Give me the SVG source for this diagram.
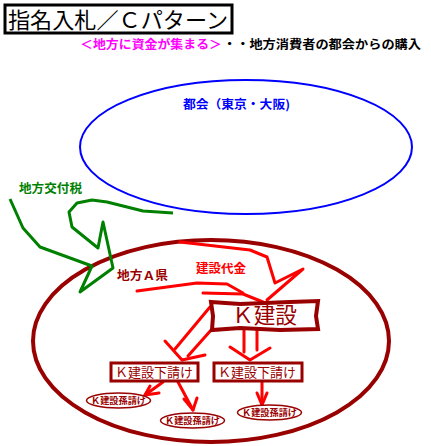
<svg xmlns="http://www.w3.org/2000/svg" width="431" height="446" viewBox="0 0 431 446">
<style>
.jp{font-family:"Noto Sans CJK JP","Noto Sans",sans-serif}
.b{font-weight:bold}
.dr{fill:#990000}
.ar{fill:none;stroke:#ff0000;stroke-width:3;stroke-linejoin:round;stroke-linecap:round}
.box{fill:#ffffff;stroke:#990000}
</style>
<rect width="431" height="446" fill="#ffffff"/>
<g id="title">
<rect x="5" y="5" width="227" height="28" fill="#ffffff" stroke="#000000" stroke-width="3"/>
<text class="jp" x="8" y="28" font-size="22" textLength="220" lengthAdjust="spacingAndGlyphs" fill="#000000">指名入札／Ｃパターン</text>
</g>
<g id="subtitle">
<text class="jp b" x="80" y="49" font-size="12" textLength="142" lengthAdjust="spacingAndGlyphs" fill="#ff00ff">＜地方に資金が集まる＞</text>
<text class="jp b" x="223" y="49" font-size="12" textLength="198" lengthAdjust="spacingAndGlyphs" fill="#000000">・・地方消費者の都会からの購入</text>
</g>
<g id="city">
<ellipse cx="246" cy="147" rx="166" ry="67" fill="none" stroke="#0000ff" stroke-width="2"/>
<text class="jp b" x="183" y="109" font-size="12" textLength="107" lengthAdjust="spacingAndGlyphs" fill="#0000ff">都会（東京・大阪)</text>
</g>
<g id="prefecture">
<ellipse cx="211" cy="341" rx="178" ry="101" fill="none" stroke="#990000" stroke-width="4"/>
<text class="jp b dr" x="117" y="280" font-size="12" textLength="51" lengthAdjust="spacingAndGlyphs">地方Ａ県</text>
</g>
<g id="connectors">
<polyline fill="none" stroke="#008000" stroke-width="3" stroke-linejoin="round" points="10,199 23,228 40,247 92,266 80,292 113,268 103,222 98,248 72,227 69,212 77,203 92,200 107,202 143,211 173,213"/>
<text class="jp b" x="19" y="193" font-size="12" textLength="63" lengthAdjust="spacingAndGlyphs" fill="#008000">地方交付税</text>
<text class="jp b" x="196" y="273" font-size="12" textLength="50" lengthAdjust="spacingAndGlyphs" fill="#ff0000">建設代金</text>
<polyline class="ar" points="137,291 167,287 197,283 227,284 243,293"/>
<polyline class="ar" points="203,293 243,294 263,302"/>
<polyline class="ar" points="180,242 250,250 267,257 275,283 303,269 267,300"/>
<polyline class="ar" points="210,307 175,349"/>
<polyline class="ar" points="212,329 188,356"/>
<polyline class="ar" points="165,341 182,360 205,355"/>
<polyline class="ar" points="244,329 244,352"/>
<polyline class="ar" points="257,329 257,350"/>
<polyline class="ar" points="230,347 250,360 270,348"/>
<polyline class="ar" points="163,382 145,395"/>
<polyline class="ar" points="150,386 145,395 159,393"/>
<polyline class="ar" points="178,382 193,410"/>
<polyline class="ar" points="184,399 193,410 197,398"/>
<polyline class="ar" points="262,382 262,405"/>
<polyline class="ar" points="257,393 262,405 267,393"/>
</g>
<g id="k-kensetsu">
<path class="box" stroke-width="4" d="M211,302 L240,304 L290,302 L318,301 L316,316 L318,329 L280,330 L240,328 L212,330 L213,316 Z"/>
<text class="jp dr" x="232" y="323" font-size="22" textLength="65" lengthAdjust="spacingAndGlyphs">Ｋ建設</text>
</g>
<g id="sub-left">
<rect class="box" x="111" y="363" width="87" height="18" stroke-width="3"/>
<text class="jp dr" x="115" y="377" font-size="13" textLength="78" lengthAdjust="spacingAndGlyphs">Ｋ建設下請け</text>
</g>
<g id="sub-right">
<rect class="box" x="214" y="363" width="88" height="18" stroke-width="3"/>
<text class="jp dr" x="218" y="377" font-size="13" textLength="78" lengthAdjust="spacingAndGlyphs">Ｋ建設下請け</text>
</g>
<g id="subsub-1">
<ellipse class="box" cx="118.5" cy="400.5" rx="32" ry="7.5" stroke-width="1.5"/>
<text class="jp b dr" x="91" y="404" font-size="9" textLength="55" lengthAdjust="spacingAndGlyphs">Ｋ建設孫請け</text>
</g>
<g id="subsub-2">
<ellipse class="box" cx="192.5" cy="420.5" rx="32" ry="7.5" stroke-width="1.5"/>
<text class="jp b dr" x="165" y="424" font-size="9" textLength="55" lengthAdjust="spacingAndGlyphs">Ｋ建設孫請け</text>
</g>
<g id="subsub-3">
<ellipse class="box" cx="269.5" cy="412.5" rx="32" ry="7.5" stroke-width="1.5"/>
<text class="jp b dr" x="242" y="416" font-size="9" textLength="55" lengthAdjust="spacingAndGlyphs">Ｋ建設孫請け</text>
</g>
</svg>
